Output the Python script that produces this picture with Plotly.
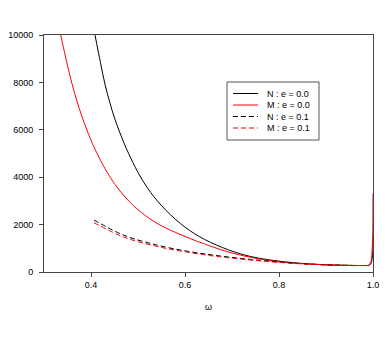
import plotly.graph_objects as go

# N : e = 0.0 (black solid)
omega_n0 = [0.4085, 0.42, 0.43, 0.44, 0.45, 0.46, 0.47, 0.48, 0.50, 0.52, 0.55, 0.59,
            0.63, 0.68, 0.73, 0.78, 0.84, 0.90, 0.95, 0.98, 0.99, 0.995, 0.999, 1.0]
n0 = [10000, 8850, 7900, 7150, 6500, 5950, 5450, 5000, 4200, 3550, 2800, 2050,
      1500, 1030, 700, 510, 375, 305, 280, 272, 280, 330, 700, 1500]

# M : e = 0.0 (red solid)
omega_m0 = [0.3355, 0.345, 0.355, 0.365, 0.375, 0.385, 0.395, 0.405, 0.42, 0.44, 0.46,
            0.48, 0.50, 0.53, 0.56, 0.60, 0.65, 0.70, 0.75, 0.80, 0.85, 0.90, 0.95,
            0.98, 0.99, 0.995, 0.998, 0.9995, 1.0]
m0 = [10000, 9150, 8300, 7550, 6900, 6320, 5800, 5330, 4720, 4020, 3460,
      3000, 2630, 2180, 1850, 1500, 1120, 800, 580, 430, 350, 300, 280,
      273, 285, 400, 900, 1800, 3300]

# e = 0.1 (dashed)
omega_e1 = [0.4064, 0.4688, 0.5397, 0.6106, 0.6745, 0.74, 0.80, 0.86, 0.92, 0.97]
n1 = [2194, 1561, 1139, 858, 675, 530, 420, 340, 290, 270]
m1 = [2080, 1480, 1080, 820, 640, 505, 405, 330, 285, 268]

legend_labels = ["N : e = 0.0", "M : e = 0.0", "N : e = 0.1", "M : e = 0.1"]
legend_colors = ["black", "red", "black", "red"]
legend_dash = ["solid", "solid", "5px,3px", "5px,3px"]

fig = go.Figure()
series = [(omega_n0, n0), (omega_m0, m0), (omega_e1, n1), (omega_e1, m1)]
for (x, y), name, c, d in zip(series, legend_labels, legend_colors, legend_dash):
    fig.add_trace(go.Scatter(x=x, y=y, mode="lines", name=name,
                             line=dict(color=c, width=1, dash=d, shape="spline")))

# screen pixel -> paper fraction (plot area spans x 44..373, y 35..272 on screen)
def px_x(p):
    return (p - 44) / 329

def px_y(p):
    return (272 - p) / 237

# compact hand-drawn legend like the original
fig.add_shape(type="rect", xref="paper", yref="paper",
              x0=px_x(227), x1=px_x(319), y0=px_y(140), y1=px_y(82),
              line=dict(color="#555555", width=1), fillcolor="white", layer="above")
rows = [93.5, 105, 116.5, 128]
for ry, name, c, d in zip(rows, legend_labels, legend_colors, legend_dash):
    fig.add_shape(type="line", xref="paper", yref="paper",
                  x0=px_x(233), x1=px_x(258), y0=px_y(ry), y1=px_y(ry),
                  line=dict(color=c, width=1, dash=d), layer="above")
    fig.add_annotation(x=px_x(265), y=px_y(ry), xref="paper", yref="paper",
                       text=name, showarrow=False, xanchor="left", yanchor="middle",
                       font=dict(size=9, color="black"))

fig.add_annotation(x=0.5, y=px_y(307), xref="paper", yref="paper", text="ω",
                   showarrow=False, xanchor="center", yanchor="middle",
                   font=dict(size=9, color="black"))

axis_style = dict(showgrid=False, zeroline=False, showline=True, linecolor="#444444",
                  linewidth=1, mirror=True, ticks="outside", ticklen=4, tickcolor="#444444",
                  tickfont=dict(size=9, color="black"), automargin=False)

fig.update_xaxes(range=[0.3, 1.0], tickvals=[0.4, 0.6, 0.8, 1.0], tickformat=".1f", **axis_style)
fig.update_yaxes(range=[0, 10000], tickvals=[0, 2000, 4000, 6000, 8000, 10000],
                 tickformat="d", ticklabelstandoff=4, **axis_style)

# the page body adds an 8px margin, so the figure is 16px smaller than the window
fig.update_layout(width=376, height=323, showlegend=False,
                  margin=dict(l=36, r=11, t=27, b=59),
                  paper_bgcolor="white", plot_bgcolor="white",
                  font=dict(family="Liberation Sans, Arial, sans-serif"))

fig.write_html("out.html")
